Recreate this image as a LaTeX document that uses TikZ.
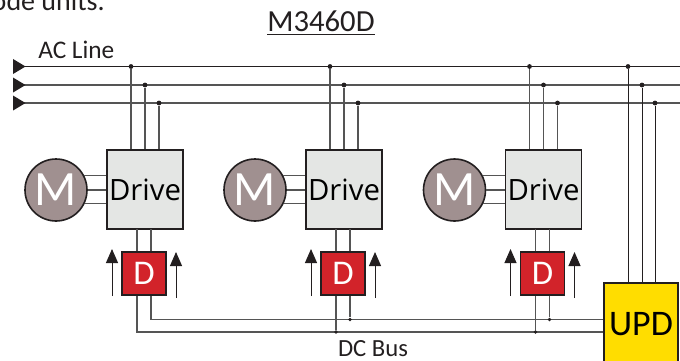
\documentclass[tikz,border=0pt]{standalone}
\usepackage{fontspec}
\setmainfont{Carlito}
\newfontfamily\drivefont{Open Sans}
\usetikzlibrary{arrows.meta}
\definecolor{motorfill}{HTML}{A09090}
\definecolor{drivefill}{HTML}{E4E6E4}
\definecolor{dfill}{HTML}{D2232A}
\definecolor{updfill}{HTML}{FFDD00}
\definecolor{ink}{HTML}{231F20}
\definecolor{wire}{HTML}{555555}
\tikzset{
  x=0.75pt,y=-0.75pt,
  motor/.style={circle,draw=ink,line width=1.2pt,fill=motorfill,minimum size=46.5pt,inner sep=0pt,text=white,font=\fontsize{37}{37}\selectfont},
  drivebox/.style={rectangle,draw=ink,line width=1.2pt,fill=drivefill,minimum width=57pt,minimum height=59.5pt,inner sep=0pt,text=black,font=\drivefont\fontsize{22}{22}\selectfont},
  dbox/.style={rectangle,draw=ink,line width=1.2pt,fill=dfill,minimum width=33pt,minimum height=32.5pt,inner sep=0pt,text=white,font=\fontsize{26}{26}\selectfont},
  updbox/.style={rectangle,draw=ink,line width=1.2pt,fill=updfill,minimum width=55.5pt,minimum height=61.5pt,inner sep=0pt,text=black,font=\fontsize{27}{27}\selectfont},
  wireline/.style={draw=wire,line width=0.85pt},
  acline/.style={draw=ink,line width=0.85pt},
  feed/.style={draw=ink,line width=0.75pt},
  junction/.style={circle,fill=ink,inner sep=0pt,minimum size=3.6pt},
  smalljunction/.style={circle,fill=ink,inner sep=0pt,minimum size=2.8pt},
  flow/.style={draw=ink,line width=0.75pt,-{Triangle[length=10.5pt,width=9pt]}},
  label/.style={text=ink,inner sep=0pt},
}
\begin{document}
\begin{tikzpicture}
\useasboundingbox (0,0) rectangle (680,360);
\clip (0,0) rectangle (680,360);
% AC line start and end points
\coordinate (La) at (13,66.5);
\coordinate (Lb) at (13,85);
\coordinate (Lc) at (13,103);
\coordinate (Ra) at (680,66.5);
\coordinate (Rb) at (680,85);
\coordinate (Rc) at (680,103);
\draw[acline] (La) -- (Ra);
\draw[wireline] (Lb) -- (Rb);
\draw[wireline] (Lc) -- (Rc);
\foreach \c in {La,Lb,Lc}
  \fill[ink] (\c) ++(0,-7.5) -- ++(12.5,7.5) -- ++(-12.5,7.5) -- cycle;
% UPD
\node[updbox] (upd) at (641,324) {UPD};
\node[junction] (ja) at (628,66.5) {};
\node[junction] (jb) at (642,85) {};
\node[junction] (jc) at (655,103) {};
\draw[feed] (ja) -- (ja |- upd.north);
\draw[feed] (jb) -- (jb |- upd.north);
\draw[feed] (jc) -- (jc |- upd.north);
% Units
\foreach \i/\dx in {1/0,2/199,3/398.5}{
  \node[drivebox] (drive\i) at (145+\dx,189.5) {Drive};
  \node[motor] (motor\i) at (56+\dx,190) {M};
  \node[dbox] (d\i) at (144+\dx,273.5) {D};
  \foreach \n/\x/\y in {a/131/66.5,b/145/85,c/159/103}{
    \node[junction] (j\i\n) at (\x+\dx,\y) {};
    \draw[wireline] (j\i\n) -- (j\i\n |- drive\i.north);
  }
  \draw[wireline] (motor\i.28) -- (motor\i.28 -| drive\i.west);
  \draw[wireline] (motor\i.east) -- (motor\i.east -| drive\i.west);
  \draw[wireline] (motor\i.-25) -- (motor\i.-25 -| drive\i.west);
  \coordinate (pl\i) at (137+\dx,229);
  \coordinate (pr\i) at (151+\dx,229);
  \draw[wireline] (pl\i) -- (pl\i |- d\i.north);
  \draw[wireline] (pr\i) -- (pr\i |- d\i.north);
  \coordinate (al\i) at (112+\dx,296);
  \coordinate (ale\i) at (112+\dx,249);
  \coordinate (ar\i) at (176+\dx,298);
  \coordinate (are\i) at (176+\dx,252);
  \draw[flow] (al\i) -- (ale\i);
  \draw[flow] (ar\i) -- (are\i);
}
% DC bus
\coordinate (busU) at (151,319.5);
\coordinate (busL) at (137,332);
\draw[wireline] (pr1 |- d1.south) -- (busU) -- (busU -| upd.west);
\draw[wireline] (pl1 |- d1.south) -- (busL) -- (busL -| upd.west);
\foreach \i in {2,3}{
  \node[smalljunction] (bu\i) at (pr\i |- busU) {};
  \node[smalljunction] (bl\i) at (pl\i |- busL) {};
  \draw[wireline] (pr\i |- d\i.south) -- (bu\i);
  \draw[wireline] (pl\i |- d\i.south) -- (bl\i);
}
% Labels
\node[label,anchor=base east,font=\fontsize{21}{21}\selectfont] (cut) at (105,11) {ode units.};
\node[label,anchor=base,font=\fontsize{23}{23}\selectfont] (title) at (321,32) {\underline{M3460D}};
\node[label,anchor=base west,font=\fontsize{19}{19}\selectfont] (ac) at (38,59) {AC Line};
\node[label,anchor=base,font=\fontsize{18.5}{18.5}\selectfont] (dc) at (373,356.5) {DC Bus};
\end{tikzpicture}
\end{document}
